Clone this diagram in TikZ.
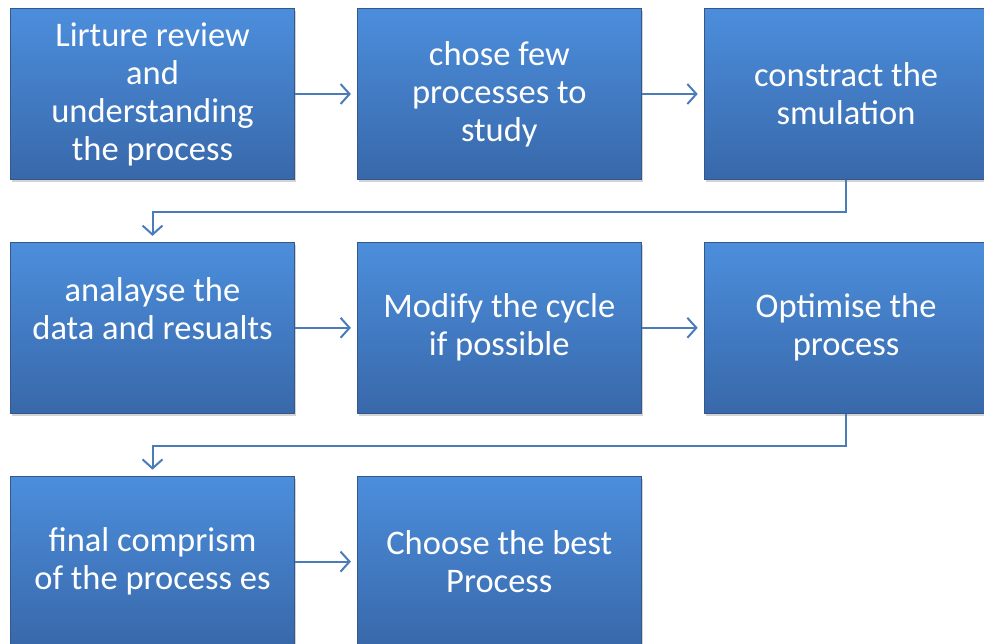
\documentclass[tikz,border=0pt]{standalone}
\usepackage{fontspec}
\setmainfont{Carlito}
\usetikzlibrary{positioning, arrows.meta, shadows}

\definecolor{boxtop}{RGB}{76,142,220}
\definecolor{boxbot}{RGB}{56,104,170}
\definecolor{boxedge}{RGB}{52,88,136}
\definecolor{flowline}{RGB}{74,124,186}

\begin{document}
\begin{tikzpicture}[x=1pt, y=1pt, node distance=62pt and 62pt]
        \tikzstyle{stepbox} = [rectangle, minimum width=284pt, minimum height=171pt, inner sep=0pt, align=center, text=white,
            font=\fontsize{34.5}{38}\selectfont, top color=boxtop, bottom color=boxbot, draw=boxedge, line width=0.8pt,
            drop shadow={shadow xshift=1.5pt, shadow yshift=-2.5pt, opacity=0.35}]
        \tikzstyle{flow} = [draw=flowline, line width=2pt, -{Straight Barb[length=9pt, width=20pt, line width=2pt]}, shorten >=6pt]

        \useasboundingbox (0,0) rectangle (984,-644);

        \node (lit) [stepbox] at (152.5,-94) {Lirture review\\and\\understanding\\the process};
        \node (chose) [stepbox, right=of lit] {chose few\\processes to\\study};
        \node (sim) [stepbox, right=of chose] {constract the\\smulation};
        \draw[flow] (lit) -- (chose);
        \draw[flow] (chose) -- (sim);

        \node (data) [stepbox, below=of lit] {analayse the\\data and resualts\\\mbox{}};
        \node (cycle) [stepbox, right=of data] {Modify the cycle\\if possible};
        \node (opt) [stepbox, right=of cycle] {Optimise the\\process};
        \draw[flow] (sim.south) -- ++(0,-32) -| (data.north);
        \draw[flow] (data) -- (cycle);
        \draw[flow] (cycle) -- (opt);

        \node (comp) [stepbox, below=of data] {final comprism\\of the process es};
        \node (best) [stepbox, right=of comp] {Choose the best\\Process};
        \draw[flow] (opt.south) -- ++(0,-32) -| (comp.north);
        \draw[flow] (comp) -- (best);

    \end{tikzpicture}
\end{document}
